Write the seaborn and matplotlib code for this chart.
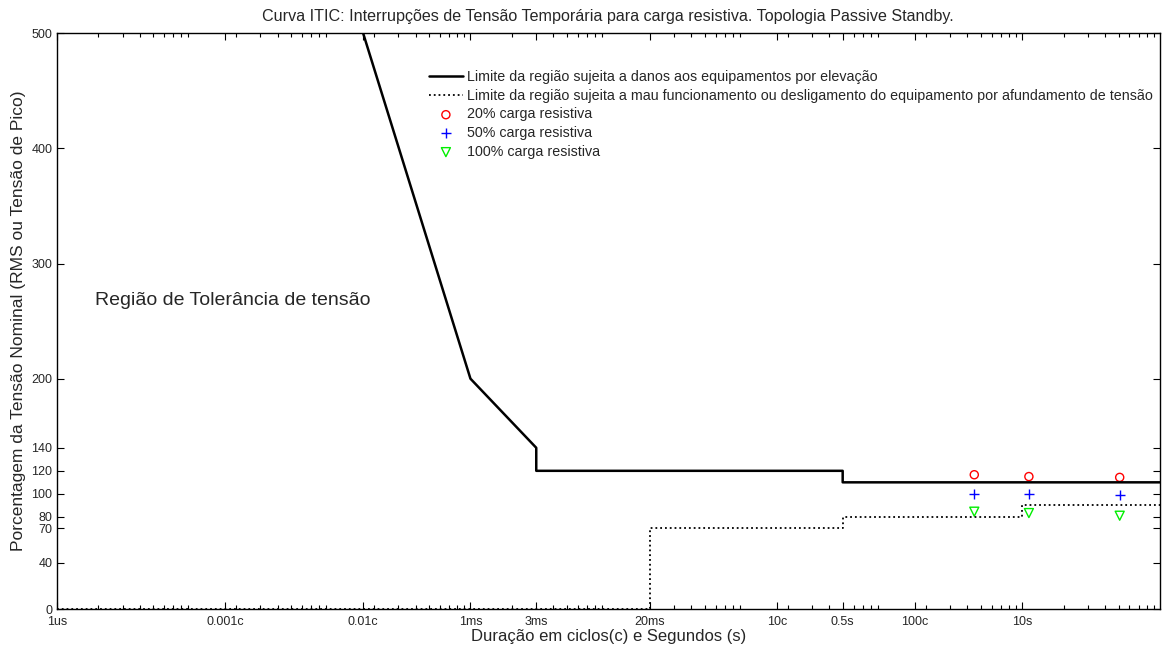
import numpy as np
import matplotlib
matplotlib.use("Agg")
import matplotlib.pyplot as plt
import seaborn as sns

# ciclo de 60 Hz
ciclo = 1 / 60

# Curva ITIC - limite superior (elevação)
sup_t = [0.01 * ciclo, 1e-3, 3e-3, 3e-3, 0.5, 0.5, 100]
sup_v = [500, 200, 140, 120, 120, 110, 110]

# Curva ITIC - limite inferior (afundamento)
inf_t = [1e-6, 0.02, 0.02, 0.5, 0.5, 10, 10, 100]
inf_v = [0, 0, 70, 70, 80, 80, 90, 90]

# medições (tempo em s, tensão em %)
med_t = [4.5, 11.2, 51]
carga20 = [116.6, 115.0, 114.3]
carga50 = [99.8, 99.8, 99.0]
carga100 = [84.5, 83.3, 81.0]

xticks = [1e-6, 0.001 * ciclo, 0.01 * ciclo, 1e-3, 3e-3, 0.02, 10 * ciclo, 0.5, 100 * ciclo, 10]
xlabels = ['1us', '0.001c', '0.01c', '1ms', '3ms', '20ms', '10c', '0.5s', '100c', '10s']
yticks = [0, 40, 70, 80, 100, 120, 140, 200, 300, 400, 500]

sns.set_style("ticks")
plt.rcParams['font.family'] = ['Liberation Sans', 'DejaVu Sans']

fig = plt.figure(figsize=(11.62, 6.51), dpi=100)
ax = fig.add_axes([0.0488, 0.0645, 0.9495, 0.8845])

sns.lineplot(x=sup_t, y=sup_v, sort=False, estimator=None, color='black', lw=1.8, ax=ax,
             label='Limite da região sujeita a danos aos equipamentos por elevação')
sns.lineplot(x=inf_t, y=inf_v, sort=False, estimator=None, color='black', lw=1.3, ax=ax,
             linestyle=':',
             label='Limite da região sujeita a mau funcionamento ou desligamento do equipamento por afundamento de tensão')
sns.scatterplot(x=med_t, y=carga20, marker='o', s=34, facecolor='none', edgecolor='red',
                linewidth=1, ax=ax, label='20% carga resistiva')
sns.scatterplot(x=med_t, y=carga50, marker='+', s=42, color='blue', linewidth=1,
                ax=ax, label='50% carga resistiva')
sns.scatterplot(x=med_t, y=carga100, marker='v', s=42, facecolor='none', edgecolor='#00ee00',
                linewidth=1, ax=ax, label='100% carga resistiva')

ax.set_xscale('log')
ax.set_xlim(1e-6, 100)
ax.set_ylim(0, 500)
ax.set_xticks(xticks)
ax.set_xticklabels(xlabels, fontsize=9)
ax.xaxis.set_minor_locator(matplotlib.ticker.LogLocator(base=10, subs=np.arange(2, 10), numticks=20))
ax.xaxis.set_minor_formatter(matplotlib.ticker.NullFormatter())
ax.set_yticks(yticks)
ax.set_yticklabels([str(v) for v in yticks], fontsize=9)
ax.tick_params(which='both', direction='in', top=True, right=True, color='black', width=0.8)
ax.tick_params(which='major', length=5, pad=3)
ax.tick_params(axis='x', which='major', pad=5)
ax.tick_params(which='minor', length=3)
for s in ax.spines.values():
    s.set_visible(True)
    s.set_color('black')
    s.set_linewidth(1)

ax.set_xlabel('Duração em ciclos(c) e Segundos (s)', fontsize=12, labelpad=1)
ax.set_ylabel('Porcentagem da Tensão Nominal (RMS ou Tensão de Pico)', fontsize=12.5, labelpad=4)
ax.set_title('Curva ITIC: Interrupções de Tensão Temporária para carga resistiva. Topologia Passive Standby.',
             fontsize=11.6, pad=9)
ax.text(0.035, 0.536, 'Região de Tolerância de tensão', transform=ax.transAxes,
        fontsize=14, ha='left', va='center')

ax.legend(loc='upper left', bbox_to_anchor=(0.332, 0.946), frameon=False, fontsize=10.3,
          handlelength=2.4, handletextpad=0.25, labelspacing=0.33, borderaxespad=0)

fig.savefig('out.png', dpi=100)
